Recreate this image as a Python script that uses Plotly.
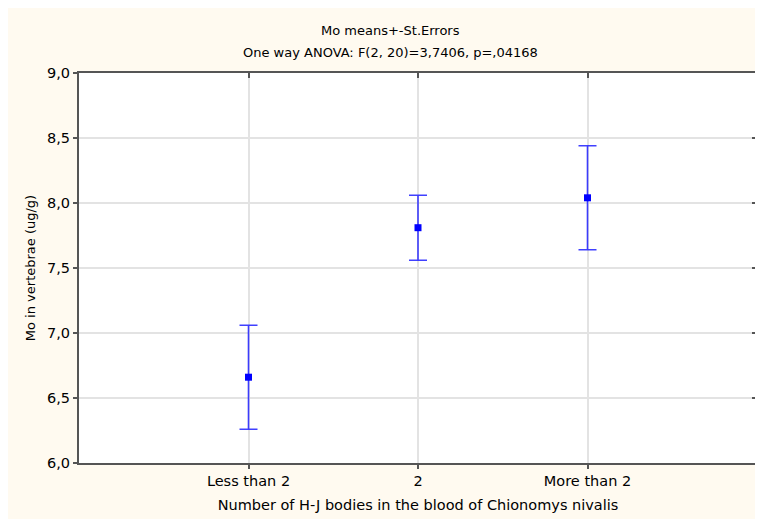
import plotly.graph_objects as go

categories = ["Less than 2", "2", "More than 2"]
means = [6.66, 7.81, 8.04]
std_errors = [0.40, 0.25, 0.40]
y_ticks = [6.0, 6.5, 7.0, 7.5, 8.0, 8.5, 9.0]

title_line1 = "Mo means+-St.Errors"
title_line2 = "One way ANOVA: F(2, 20)=3,7406, p=,04168"
x_title = "Number of H-J bodies in the blood of Chionomys nivalis"
y_title = "Mo in vertebrae (ug/g)"

FONT = "DejaVu Sans, Verdana, sans-serif"
BLUE = "#0000FF"
AXIS = "#555555"
GRID = "#E3E3E3"
CREAM = "#FFFAF0"

xs = list(range(len(categories)))

fig = go.Figure()
fig.add_trace(go.Scatter(
    x=xs, y=means, mode="markers",
    marker=dict(symbol="square", size=7, color=BLUE),
    error_y=dict(type="data", array=std_errors, visible=True,
                 color="rgba(30,30,255,0.85)", thickness=1.6, width=9),
    showlegend=False, hoverinfo="skip",
))
# invisible trace to host mirrored (inside) tick axes
fig.add_trace(go.Scatter(
    x=xs, y=means, xaxis="x2", yaxis="y2", mode="markers",
    marker=dict(opacity=0), showlegend=False, hoverinfo="skip",
))

fig.update_layout(
    width=755, height=511,
    margin=dict(l=71, r=4, t=65, b=56),
    paper_bgcolor=CREAM, plot_bgcolor="white",
    separators=", ",
    font=dict(family=FONT, size=13, color="black"),
    xaxis=dict(
        range=[-1, 3], tickvals=xs, ticktext=categories,
        showgrid=True, gridcolor=GRID, gridwidth=1.5,
        showline=True, linecolor=AXIS, linewidth=2, mirror=True,
        ticks="outside", ticklen=4, tickcolor=AXIS, tickwidth=1.5,
        zeroline=False, tickfont=dict(size=14.5),
        title=dict(text=x_title, standoff=11, font=dict(size=14.5)),
    ),
    yaxis=dict(
        range=[6, 9], tickvals=y_ticks, tickformat=".1f",
        showgrid=True, gridcolor=GRID, gridwidth=1.5,
        showline=True, linecolor=AXIS, linewidth=2, mirror=True,
        ticks="outside", ticklen=4, tickcolor=AXIS, tickwidth=1.5,
        zeroline=False, tickfont=dict(size=14.5),
        title=dict(text=y_title, standoff=8, font=dict(size=13)),
    ),
    xaxis2=dict(
        overlaying="x", side="top", range=[-1, 3], tickvals=xs,
        showticklabels=False, showgrid=False, showline=False,
        ticks="inside", ticklen=5, tickcolor=AXIS, tickwidth=1.5, zeroline=False,
    ),
    yaxis2=dict(
        overlaying="y", side="right", range=[6, 9], tickvals=y_ticks,
        showticklabels=False, showgrid=False, showline=False,
        ticks="inside", ticklen=5, tickcolor=AXIS, tickwidth=1.5, zeroline=False,
    ),
    annotations=[
        dict(text=title_line1, xref="paper", yref="paper", x=0.46, y=1.1077,
             xanchor="center", yanchor="middle", showarrow=False,
             font=dict(size=13)),
        dict(text=title_line2, xref="paper", yref="paper", x=0.46, y=1.0513,
             xanchor="center", yanchor="middle", showarrow=False,
             font=dict(size=13)),
    ],
)

fig.write_html("out.html")
